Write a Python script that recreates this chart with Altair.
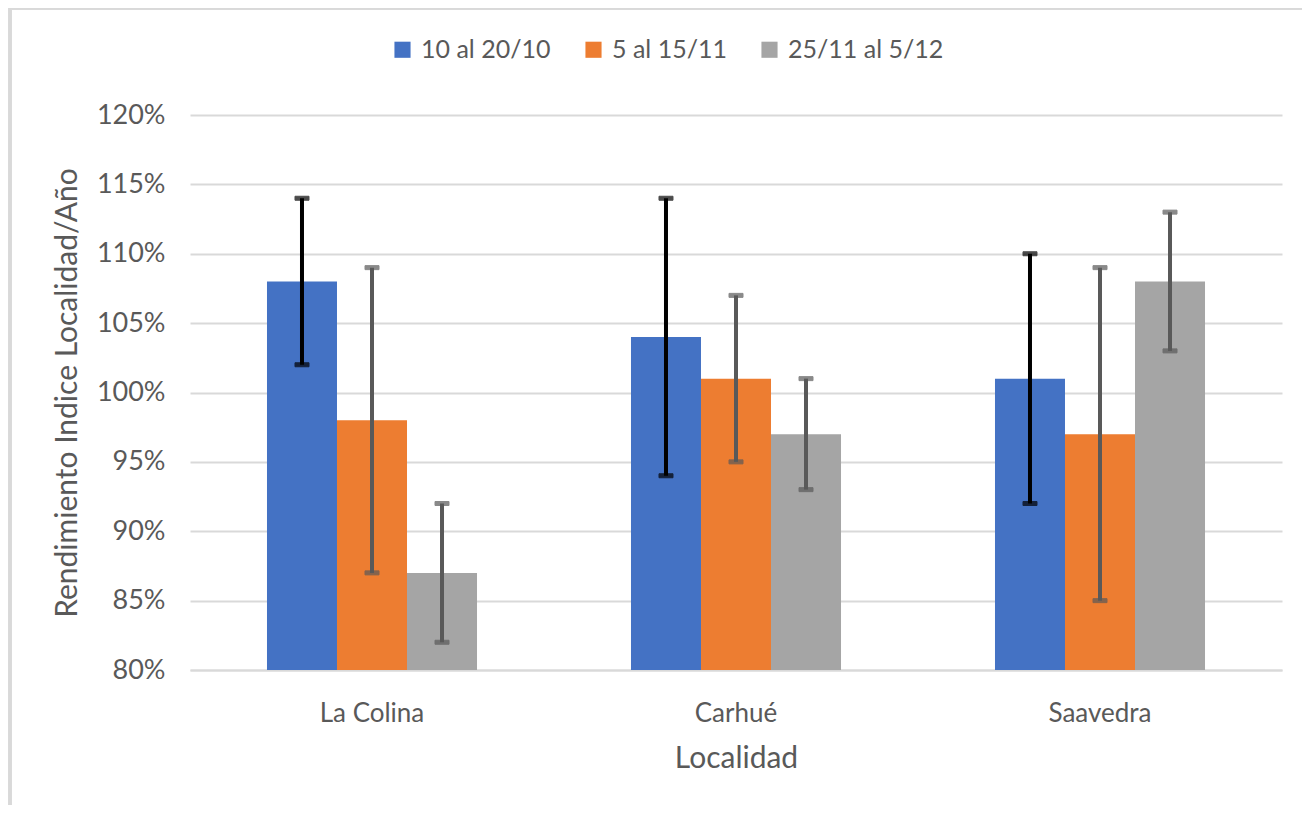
import altair as alt
import pandas as pd

localidades = ["La Colina", "Carhué", "Saavedra"]
series = ["10 al 20/10", "5 al 15/11", "25/11 al 5/12"]
colors = ["#4472C4", "#ED7D31", "#A5A5A5"]
err_colors = ["#000000", "#595959", "#595959"]

# values per series, per localidad (fractions)
valores = {
    "10 al 20/10": [1.08, 1.04, 1.01],
    "5 al 15/11": [0.98, 1.01, 0.97],
    "25/11 al 5/12": [0.87, 0.97, 1.08],
}
err_low = {
    "10 al 20/10": [1.02, 0.94, 0.92],
    "5 al 15/11": [0.87, 0.95, 0.85],
    "25/11 al 5/12": [0.82, 0.93, 1.03],
}
err_high = {
    "10 al 20/10": [1.14, 1.14, 1.10],
    "5 al 15/11": [1.09, 1.07, 1.09],
    "25/11 al 5/12": [0.92, 1.01, 1.13],
}

rows = []
for s in series:
    for i, loc in enumerate(localidades):
        rows.append({
            "Localidad": loc,
            "Serie": s,
            "valor": valores[s][i],
            "lo": err_low[s][i],
            "hi": err_high[s][i],
        })
df = pd.DataFrame(rows)

FONT = "Lato"
TXT = "#595959"

x_scale = alt.Scale(domain=localidades, paddingInner=0.423, paddingOuter=0.2115)
xoff_scale = alt.Scale(domain=series, paddingInner=0, paddingOuter=0)
y_scale = alt.Scale(domain=[0.8, 1.2], zero=False, nice=False)

x_axis = alt.Axis(
    title="Localidad",
    labelAngle=0,
    labelFontSize=26,
    labelColor=TXT,
    labelPadding=30,
    titleFontSize=30,
    titleColor=TXT,
    titleFontWeight="normal",
    titlePadding=17,
    ticks=False,
    domainColor="#D9D9D9",
    domainWidth=2,
    labelFont=FONT,
    titleFont=FONT,
)
y_axis = alt.Axis(
    title="Rendimiento Indice Localidad/Año",
    format=".0%",
    values=[0.8, 0.85, 0.9, 0.95, 1.0, 1.05, 1.1, 1.15, 1.2],
    labelFontSize=27,
    labelColor=TXT,
    labelPadding=25,
    titleFontSize=30,
    titleColor=TXT,
    titleFontWeight="normal",
    titlePadding=14,
    ticks=False,
    domain=False,
    gridColor="#D9D9D9",
    gridWidth=2,
    labelFont=FONT,
    titleFont=FONT,
)

x_enc = alt.X("Localidad:N", sort=localidades, scale=x_scale, axis=x_axis)
xoff_enc = alt.XOffset("Serie:N", sort=series, scale=xoff_scale)

color_enc = alt.Color(
    "Serie:N",
    sort=series,
    scale=alt.Scale(domain=series, range=colors),
    legend=alt.Legend(
        title=None,
        orient="none",
        direction="horizontal",
        legendX=200,
        legendY=-78,
        symbolType="square",
        symbolSize=260,
        symbolStrokeWidth=0,
        labelFontSize=25,
        labelColor=TXT,
        labelFont=FONT,
        columnPadding=30,
        labelOffset=6,
    ),
)

bars = alt.Chart(df).mark_bar().encode(
    x=x_enc,
    xOffset=xoff_enc,
    y=alt.Y("valor:Q", scale=y_scale, axis=y_axis),
    y2=alt.datum(0.8),
    color=color_enc,
)

err_scale = alt.Scale(domain=series, range=err_colors)

rules = alt.Chart(df).mark_rule(strokeWidth=4).encode(
    x=x_enc,
    xOffset=xoff_enc,
    y=alt.Y("lo:Q", scale=y_scale, axis=y_axis),
    y2="hi:Q",
    stroke=alt.Stroke("Serie:N", sort=series, scale=err_scale, legend=None),
)

def cap(field):
    return alt.Chart(df).mark_tick(size=14, thickness=4).encode(
        x=x_enc,
        xOffset=xoff_enc,
        y=alt.Y(f"{field}:Q", scale=y_scale, axis=y_axis),
        stroke=alt.Stroke("Serie:N", sort=series, scale=err_scale, legend=None),
        fill=alt.Fill("Serie:N", sort=series, scale=err_scale, legend=None),
    )

frame_top = alt.Chart(df).mark_rule(color="#D9D9D9", strokeWidth=3, clip=False).encode(
    x=alt.value(-180), x2=alt.value(1130), y=alt.value(-107)
)
frame_left = alt.Chart(df).mark_rule(color="#D9D9D9", strokeWidth=3, clip=False).encode(
    x=alt.value(-180), y=alt.value(-108), y2=alt.value(700)
)

chart = (
    alt.layer(bars, rules, cap("lo"), cap("hi"), frame_top, frame_left)
    .resolve_scale(color="independent", stroke="independent", fill="independent")
    .properties(
        width=1092,
        height=555,
        autosize=alt.AutoSizeParams(type="none"),
        padding={"left": 182, "top": 107, "right": 20, "bottom": 135},
        background="white",
    )
    .configure_view(stroke=None)
)

chart.save("out.html", embed_options={"renderer": "svg", "actions": False})
